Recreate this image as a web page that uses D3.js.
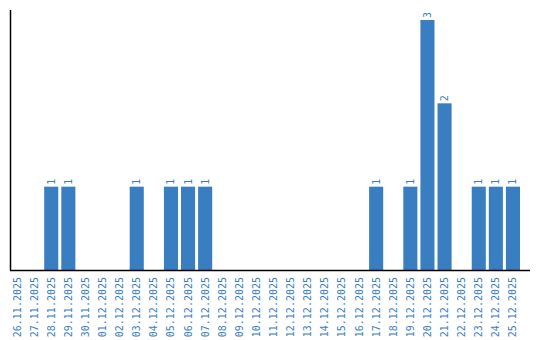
<!DOCTYPE html>
<html lang="en">
<head>
    <meta charset="UTF-8">
    <title>Daily count</title>
    <script src="https://d3js.org/d3.v7.min.js"></script>
    <style>
        body { margin: 0; background: white; }
        svg text { font-family: "DejaVu Sans Mono", monospace; font-size: 10px; fill: #3a7ec2; }
        .axisLine { stroke: black; stroke-width: 1.5px; }
        rect.bar { fill: #3a7ec2; }
    </style>
</head>
<body>
    <svg id="canvas" width="540" height="340"></svg>
    <script>
        // dates and counts
        let dates = ['26.11.2025','27.11.2025','28.11.2025','29.11.2025','30.11.2025','01.12.2025',
            '02.12.2025','03.12.2025','04.12.2025','05.12.2025','06.12.2025','07.12.2025',
            '08.12.2025','09.12.2025','10.12.2025','11.12.2025','12.12.2025','13.12.2025',
            '14.12.2025','15.12.2025','16.12.2025','17.12.2025','18.12.2025','19.12.2025',
            '20.12.2025','21.12.2025','22.12.2025','23.12.2025','24.12.2025','25.12.2025'];
        let counts = [0,0,1,1,0,0, 0,1,0,1,1,1, 0,0,0,0,0,0, 0,0,0,1,0,1, 3,2,0,1,1,1];

        let svg = d3.select('#canvas');
        let leftX = 10, rightX = 530, topY = 10, baseY = 270;

        let x = d3.scaleBand()
            .domain(dates)
            .range([leftX, leftX + dates.length * 17])
            .paddingInner(3 / 17)
            .paddingOuter(0)
            .align(0);
        let y = d3.scaleLinear()
            .domain([0, 3.12])
            .range([baseY, topY]);

        let data = dates.map(function(d, i){ return {date: d, value: counts[i]}; });
        let nonZero = data.filter(function(d){ return d.value > 0; });

        // bars
        svg.append('g').selectAll('rect')
            .data(nonZero)
            .enter()
            .append('rect')
            .attr('class', 'bar')
            .attr('x', function(d){ return x(d.date); })
            .attr('y', function(d){ return y(d.value); })
            .attr('width', x.bandwidth())
            .attr('height', function(d){ return baseY - y(d.value); });

        // value labels, rotated
        svg.append('g').selectAll('text')
            .data(nonZero)
            .enter()
            .append('text')
            .attr('transform', function(d){
                return 'translate(' + (x(d.date) + x.bandwidth() / 2 + 3.5) + ',' + (y(d.value) - 2) + ') rotate(-90)';
            })
            .attr('text-anchor', 'start')
            .text(function(d){ return d.value; });

        // date labels
        svg.append('g').selectAll('text')
            .data(dates)
            .enter()
            .append('text')
            .attr('transform', function(d){
                return 'translate(' + (x(d) + x.bandwidth() / 2 + 3.5) + ',' + (baseY + 7) + ') rotate(-90)';
            })
            .attr('text-anchor', 'end')
            .text(function(d){ return d; });

        // axis lines
        svg.append('line').attr('class', 'axisLine')
            .attr('x1', leftX + 0.5).attr('x2', leftX + 0.5)
            .attr('y1', topY).attr('y2', baseY);
        svg.append('line').attr('class', 'axisLine')
            .attr('x1', leftX).attr('x2', rightX)
            .attr('y1', baseY + 0.5).attr('y2', baseY + 0.5);
    </script>
</body>
</html>
